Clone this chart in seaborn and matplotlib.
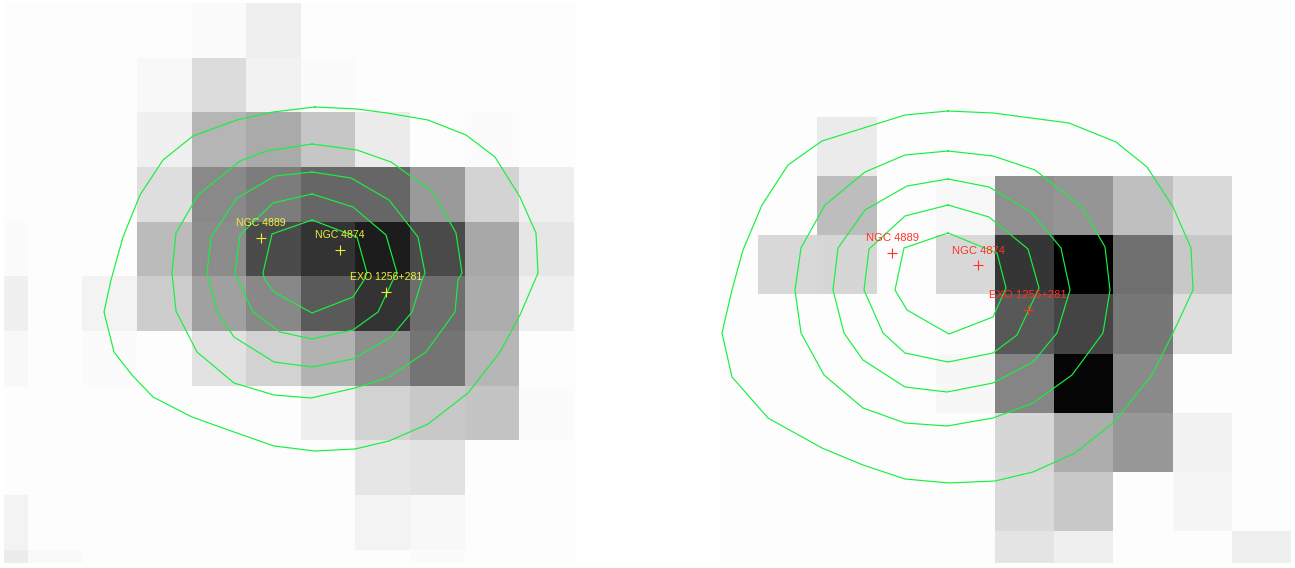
import seaborn as sns
import matplotlib.pyplot as plt
import numpy as np

# grey level of each cell, rows top to bottom
B = 253
left_grey = [
    [B, B, B, B, 251, 239, B, B, B, B, B, B],
    [B, B, B, 248, 220, 242, 251, B, B, B, B, B],
    [B, B, B, 240, 181, 170, 198, 235, 253, 251, B, B],
    [B, B, B, 222, 137, 124, 102, 102, 154, 211, 239, B],
    [251, B, B, 187, 140, 75, 51, 28, 74, 168, 230, B],
    [240, B, 243, 205, 160, 136, 90, 51, 110, 173, 239, B],
    [248, B, 251, 253, 226, 210, 178, 142, 116, 182, B, B],
    [B, B, B, B, B, B, 238, 210, 200, 196, 251, B],
    [B, B, B, B, B, B, B, 230, 226, B, B, B],
    [243, B, B, B, B, B, B, 243, 248, B, B, B],
    [236, 249, B, B, B, B, B, B, 251, B, B, B],
]
right_grey = [
    [B, B, B, B, B, B, B, B, B, B],
    [B, B, B, B, B, B, B, B, B, B],
    [B, B, 235, B, B, B, B, B, B, B],
    [B, B, 189, B, 248, 144, 149, 191, 218, B],
    [B, 216, 214, B, 216, 53, 0, 111, 200, B],
    [B, B, B, B, 252, 88, 68, 119, 222, B],
    [B, B, B, B, 247, 133, 5, 138, B, B],
    [B, B, B, B, B, 214, 173, 152, 242, B],
    [B, B, B, B, B, 218, 200, B, 245, B],
    [B, B, B, B, B, 228, 239, B, B, 239],
]

# contour vertices
left_contours = [
    [(315, 107), (357, 109), (387, 113), (428, 120), (466, 135), (495, 157), (520, 197), (536, 233), (538, 273),
     (535, 280), (520, 315), (500, 352), (468, 393), (428, 424), (389, 441), (355, 449), (315, 451), (274, 446),
     (234, 432), (192, 417), (153, 397), (132, 375), (114, 352), (104, 312), (111, 280), (123, 237), (140, 195),
     (163, 160), (193, 136), (237, 120), (273, 112)],
    [(312, 144), (357, 150), (391, 162), (433, 192), (456, 233), (462, 273), (458, 280), (455, 312), (426, 352),
     (389, 377), (355, 388), (311, 398), (274, 395), (234, 383), (197, 352), (176, 311), (172, 273), (176, 233),
     (198, 195), (240, 161), (267, 151)],
    [(312, 172), (351, 178), (389, 200), (418, 237), (425, 273), (422, 280), (412, 312), (391, 337), (353, 359),
     (312, 367), (274, 362), (234, 337), (217, 312), (209, 280), (207, 273), (211, 237), (237, 198), (275, 176)],
    [(312, 194), (353, 207), (386, 235), (397, 273), (393, 280), (378, 312), (353, 330), (312, 339), (280, 332),
     (253, 312), (238, 280), (235, 273), (240, 235), (273, 203)],
    [(312, 220), (357, 237), (367, 273), (364, 280), (353, 297), (312, 313), (274, 292), (265, 280), (263, 273),
     (272, 234)],
]
right_contours = [
    [(948, 111), (993, 113), (1069, 123), (1116, 142), (1147, 167), (1173, 207), (1191, 248), (1193, 290),
     (1173, 333), (1152, 375), (1114, 422), (1075, 453), (1033, 472), (995, 481), (949, 483), (905, 479),
     (863, 465), (822, 448), (768, 418), (732, 377), (722, 333), (732, 290), (743, 250), (762, 205), (788, 165),
     (822, 141), (905, 115)],
    [(948, 151), (993, 156), (1035, 170), (1082, 207), (1105, 247), (1110, 290), (1103, 333), (1072, 375),
     (1033, 403), (993, 418), (947, 426), (905, 423), (863, 408), (824, 375), (801, 333), (795, 290), (801, 248),
     (825, 205), (865, 172), (905, 155)],
    [(948, 179), (989, 187), (1031, 212), (1061, 248), (1070, 290), (1057, 333), (1033, 362), (993, 383),
     (947, 392), (905, 387), (863, 360), (844, 333), (833, 290), (838, 248), (865, 210), (907, 186)],
    [(948, 205), (989, 217), (1028, 249), (1039, 288), (1017, 335), (993, 353), (948, 362), (905, 353), (883, 333),
     (864, 290), (869, 249), (905, 216)],
    [(948, 233), (997, 253), (1006, 288), (993, 317), (949, 334), (907, 310), (895, 290), (904, 248)],
]

source_names = ['NGC 4889', 'NGC 4874', 'EXO 1256+281']
left_source_x = [261, 340, 386]
left_source_y = [238, 250, 292]
right_source_x = [892, 978, 1028]
right_source_y = [253, 265, 310]

W, H = 1295, 568
fig = plt.figure(figsize=(W / 100, H / 100), dpi=100, facecolor='white')


def panel(grey, contours, sx, sy, box, x0, y0, cell, col, fs):
    # box is left, top, right, bottom of the image in figure pixels
    ax = fig.add_axes([box[0] / W, 1 - box[3] / H, (box[2] - box[0]) / W, (box[3] - box[1]) / H])
    sns.heatmap(np.array(grey), cmap='gray', vmin=0, vmax=255, cbar=False, ax=ax,
                xticklabels=False, yticklabels=False)
    ax.set_xlim((box[0] - x0) / cell, (box[2] - x0) / cell)
    ax.set_ylim((box[3] - y0) / cell, (box[1] - y0) / cell)
    ax.axis('off')
    for c in contours:
        xs = [(p[0] - x0) / cell for p in c + c[:1]]
        ys = [(p[1] - y0) / cell for p in c + c[:1]]
        sns.lineplot(x=xs, y=ys, sort=False, estimator=None, color='#18f040', lw=0.85, ax=ax)
    xs = [(v - x0) / cell for v in sx]
    ys = [(v - y0) / cell for v in sy]
    sns.scatterplot(x=xs, y=ys, marker='+', s=52, color=col, linewidth=0.8, ax=ax, zorder=5)
    for name, x, y in zip(source_names, xs, ys):
        ax.text(x, y - 14.5 / cell, name, color=col, fontsize=fs, ha='center', va='center',
                family='Liberation Sans', zorder=6)


panel(left_grey, left_contours, left_source_x, left_source_y, (4, 3, 577, 563), -27.1, 3, 54.65, '#eeee3a', 7.6)
panel(right_grey, right_contours, right_source_x, right_source_y, (719, 0, 1291, 563), 699, -1.7, 59.2, '#ff3322', 8.1)

plt.savefig('out.png', dpi=100)
